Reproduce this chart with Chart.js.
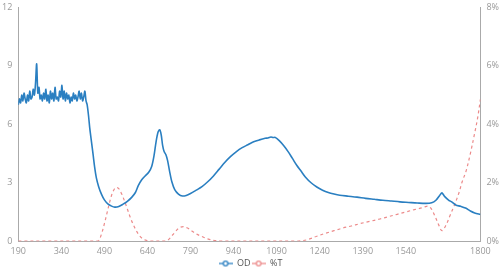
<!DOCTYPE html>
<html>
<head>
<meta charset="utf-8">
<script src="https://cdn.jsdelivr.net/npm/chart.js@4"></script>
<style>
html,body{margin:0;padding:0;background:#fff;}
#wrap{width:500px;height:270px;}
</style>
</head>
<body>
<div id="wrap"><canvas id="c" width="500" height="270"></canvas></div>
<script>
// OD series (left axis)
const odX = [190,194,198,202,206,210,214,218,222,226,230,234,238,242,246,250,254,258,262,266,270,274,278,282,286,290,294,298,302,306,310,314,318,322,326,330,334,338,342,346,350,354,358,362,366,370,374,378,382,386,390,394,398,402,406,410,414,418,422,426,
  430,435,439,445,451,456,462,470,480,490,503,515,526,540,555,570,585,598,608,620,632,645,655,663,670,677,683,688,693,698,704,710,717,725,735,748,762,775,790,810,830,850,870,890,910,930,950,970,990,1010,1030,1050,1060,1070,1078,1085,1100,1115,1130,1145,1160,1175,1190,1210,1230,1250,1270,1290,1310,1340,1370,1400,1430,1460,1490,1520,1550,1580,1610,1630,1645,1658,1666,1675,1690,1700,1714,1731,1748,1765,1780,1800];
const odY = [7.0,7.3,7.1,7.5,7.2,7.6,7.3,7.1,7.5,7.2,7.7,7.3,7.4,7.8,7.5,8.1,9.1,7.6,7.9,7.3,7.5,7.2,7.6,7.3,7.8,7.2,7.5,7.1,7.7,7.3,7.6,7.2,7.9,7.3,7.4,7.2,7.7,7.4,8.0,7.3,7.7,7.2,7.6,7.3,7.5,7.1,7.4,7.2,7.6,7.3,7.5,7.2,7.4,7.7,7.3,7.6,7.2,7.4,7.7,7.2,
  7.0,6.4,5.8,5.1,4.4,3.8,3.25,2.8,2.4,2.12,1.9,1.8,1.75,1.78,1.9,2.05,2.25,2.5,2.85,3.15,3.35,3.55,3.85,4.4,5.1,5.6,5.72,5.45,4.9,4.6,4.45,4.15,3.6,3.05,2.65,2.42,2.32,2.35,2.45,2.62,2.8,3.05,3.35,3.7,4.05,4.35,4.6,4.8,4.95,5.1,5.2,5.28,5.3,5.35,5.32,5.33,5.15,4.9,4.6,4.25,3.9,3.6,3.3,3.0,2.78,2.62,2.5,2.42,2.36,2.31,2.26,2.2,2.15,2.1,2.06,2.02,1.99,1.96,1.94,1.97,2.1,2.35,2.48,2.3,2.1,2.02,1.86,1.79,1.7,1.55,1.45,1.37];
// %T series (right axis, percent)
const tX = [190,460,470,480,490,500,510,520,530,540,550,560,570,580,590,600,610,620,630,640,650,700,710,720,735,750,765,780,795,810,830,850,870,890,900,1160,1180,1200,1230,1260,1290,1320,1350,1380,1410,1450,1480,1510,1540,1570,1600,1617,1628,1642,1655,1666,1680,1695,1710,1725,1737,1750,1765,1780,1790,1800];
const tY = [0,0,0.02,0.25,0.6,1.0,1.4,1.7,1.84,1.8,1.62,1.38,1.1,0.82,0.58,0.38,0.22,0.11,0.05,0.02,0,0,0.03,0.12,0.3,0.45,0.5,0.45,0.35,0.25,0.16,0.08,0.03,0.01,0,0,0.02,0.06,0.17,0.27,0.36,0.45,0.52,0.6,0.67,0.76,0.84,0.92,1.0,1.08,1.15,1.2,1.12,0.85,0.55,0.36,0.55,0.9,1.25,1.65,2.05,2.4,3.0,3.7,4.2,4.85];
// axis ticks
const xTicks = [190,340,490,640,790,940,1090,1240,1390,1540,1800];
const yLeftTicks = [0,3,6,9,12];
const yRightTicks = [0,2,4,6,8];

const odColor = '#2a7fc1';
const tColor = '#ec8a8a';

function legendIcon(color){
  const c = document.createElement('canvas');
  c.width = 14; c.height = 8;
  const g = c.getContext('2d');
  g.strokeStyle = color; g.lineWidth = 1.3;
  g.beginPath(); g.moveTo(0,4); g.lineTo(14,4); g.stroke();
  g.beginPath(); g.arc(7,4,2.3,0,Math.PI*2); g.fillStyle='#fff'; g.fill(); g.stroke();
  return c;
}

const font = {family:'"Open Sans", sans-serif', size:9};
const grey = '#999';

new Chart(document.getElementById('c'), {
  type:'line',
  data:{
    datasets:[
      {label:'OD', data: odX.map((x,i)=>({x, y: odY[i]})), yAxisID:'y', borderColor:odColor, backgroundColor:odColor,
       borderWidth:1.6, pointRadius:0, tension:0.3, pointStyle: legendIcon(odColor)},
      {label:'%T', data: tX.map((x,i)=>({x, y: tY[i]})), yAxisID:'y1', borderColor:tColor, backgroundColor:tColor,
       borderWidth:1.2, borderDash:[3,3], pointRadius:0, tension:0.35, pointStyle: legendIcon(tColor)}
    ]
  },
  options:{
    responsive:false, animation:false, devicePixelRatio:1,
    layout:{padding:{left:0,right:-1,top:-4,bottom:-8}},
    plugins:{
      legend:{position:'bottom', labels:{usePointStyle:true, pointStyleWidth:14, boxHeight:8, font:{family:font.family,size:9}, color:'#555', padding:1}},
      tooltip:{enabled:false}
    },
    scales:{
      x:{type:'linear', min:190, max:1800,
        afterBuildTicks:(s)=>{ s.ticks = xTicks.map(v=>({value:v})); },
        grid:{display:false, drawTicks:true, tickLength:4, tickColor:'#aaa'},
        border:{color:'#aaa'},
        ticks:{font, color:grey, autoSkip:false, maxRotation:0, padding:1, callback:(v)=>String(v)}},
      y:{type:'linear', position:'left', min:0, max:12,
        afterBuildTicks:(s)=>{ s.ticks = yLeftTicks.map(v=>({value:v})); },
        grid:{display:false, tickLength:4, tickColor:'#aaa'}, border:{color:'#aaa'},
        ticks:{font, color:grey, padding:2, callback:(v)=>String(v)}},
      y1:{type:'linear', position:'right', min:0, max:8,
        afterBuildTicks:(s)=>{ s.ticks = yRightTicks.map(v=>({value:v})); },
        grid:{display:false, tickLength:4, tickColor:'#aaa'}, border:{color:'#aaa'},
        ticks:{font, color:grey, padding:2, callback:(v)=>v+'%'}}
    }
  }
});
</script>
</body>
</html>
